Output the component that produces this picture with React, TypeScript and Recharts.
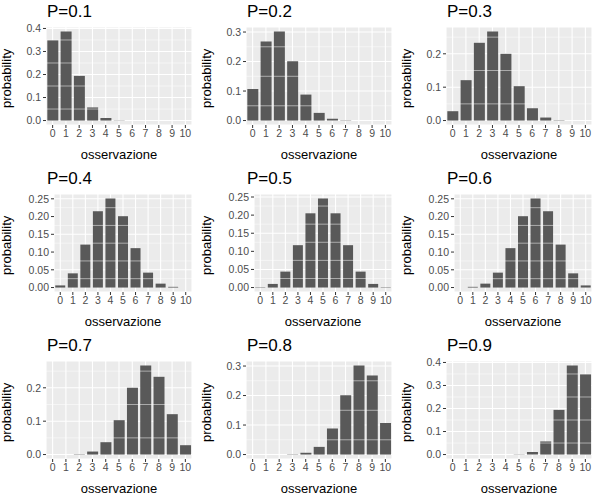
import { BarChart, Bar, XAxis, YAxis, CartesianGrid, ReferenceLine } from 'recharts'

const OBS = ['0', '1', '2', '3', '4', '5', '6', '7', '8', '9', '10']
const P_LABELS = ['P=0.1', 'P=0.2', 'P=0.3', 'P=0.4', 'P=0.5', 'P=0.6', 'P=0.7', 'P=0.8', 'P=0.9']

const P01 = [0.349, 0.387, 0.194, 0.057, 0.011, 0.001, 0, 0, 0, 0, 0]
const P02 = [0.107, 0.268, 0.302, 0.201, 0.088, 0.026, 0.006, 0.001, 0, 0, 0]
const P03 = [0.028, 0.121, 0.233, 0.267, 0.2, 0.103, 0.037, 0.009, 0.001, 0, 0]
const P04 = [0.006, 0.04, 0.121, 0.215, 0.251, 0.201, 0.111, 0.042, 0.011, 0.002, 0]
const P05 = [0.001, 0.01, 0.044, 0.117, 0.205, 0.246, 0.205, 0.117, 0.044, 0.01, 0.001]
const P06 = [0, 0.002, 0.011, 0.042, 0.111, 0.201, 0.251, 0.215, 0.121, 0.04, 0.006]
const P07 = [0, 0, 0.001, 0.009, 0.037, 0.103, 0.2, 0.267, 0.233, 0.121, 0.028]
const P08 = [0, 0, 0, 0.001, 0.006, 0.026, 0.088, 0.201, 0.302, 0.268, 0.107]
const P09 = [0, 0, 0, 0, 0, 0.001, 0.011, 0.057, 0.194, 0.387, 0.349]

const SERIES = [P01, P02, P03, P04, P05, P06, P07, P08, P09]
const Y_TICKS = [
  [0, 0.1, 0.2, 0.3, 0.4],
  [0, 0.1, 0.2, 0.3],
  [0, 0.1, 0.2],
  [0, 0.05, 0.1, 0.15, 0.2, 0.25],
  [0, 0.05, 0.1, 0.15, 0.2, 0.25],
  [0, 0.05, 0.1, 0.15, 0.2, 0.25],
  [0, 0.1, 0.2],
  [0, 0.1, 0.2, 0.3],
  [0, 0.1, 0.2, 0.3, 0.4],
]

const FONT = '"Liberation Sans", Arial, sans-serif'

function Panel({ idx }: { idx: number }) {
  const values = SERIES[idx]
  const ticks = Y_TICKS[idx]
  const data = OBS.map((x, i) => ({ x, y: values[i] }))
  const max = Math.max(...values)
  const step = ticks[1] - ticks[0]
  const twoDec = step < 0.1
  const minors = ticks.map((t) => t + step / 2).filter((t) => t < max * 1.05)
  const minor0 = -step / 2
  return (
    <div style={{ position: 'relative', width: 200, height: 167 }}>
      <div style={{ position: 'absolute', left: 47, top: 2, fontSize: 17, fontFamily: FONT, color: '#000' }}>
        {P_LABELS[idx]}
      </div>
      <BarChart
        width={200}
        height={167}
        data={data}
        margin={{ top: 27, right: 8, bottom: 6, left: 4 }}
        barCategoryGap="10%"
      >
        <CartesianGrid fill="#EBEBEB" stroke="#fff" strokeWidth={1.1} />
        {[minor0, ...minors].map((m) => (
          <ReferenceLine key={m} y={m} stroke="#fff" strokeWidth={0.5} ifOverflow="hidden" />
        ))}
        <XAxis
          dataKey="x"
          tick={{ fontSize: 10.5, fill: '#4D4D4D', fontFamily: FONT }}
          tickLine={{ stroke: '#333' }}
          tickSize={3}
          axisLine={false}
          interval={0}
          height={36}
          label={{ value: 'osservazione', position: 'insideBottom', offset: 2, fontSize: 13, fill: '#000', fontFamily: FONT }}
        />
        <YAxis
          type="number"
          domain={[-max * 0.05, max * 1.05]}
          ticks={ticks}
          allowDataOverflow
          tickFormatter={(v: number) => v.toFixed(twoDec ? 2 : 1)}
          tick={{ fontSize: 10.5, fill: '#4D4D4D', fontFamily: FONT }}
          tickLine={{ stroke: '#333' }}
          tickSize={3}
          axisLine={false}
          width={twoDec ? 50 : 42}
          label={{ value: 'probability', angle: -90, position: 'insideLeft', offset: 2, dy: 32, fontSize: 13, fill: '#000', fontFamily: FONT }}
        />
        <Bar dataKey="y" fill="#595959" isAnimationActive={false} />
      </BarChart>
    </div>
  )
}

export default function App() {
  return (
    <div
      style={{
        position: 'absolute',
        left: 0,
        top: 0,
        width: 600,
        height: 500,
        background: '#fff',
        display: 'grid',
        gridTemplateColumns: '200px 200px 200px',
        gridTemplateRows: '167px 167px 166px',
      }}
    >
      {SERIES.map((_, i) => (
        <Panel key={i} idx={i} />
      ))}
    </div>
  )
}
